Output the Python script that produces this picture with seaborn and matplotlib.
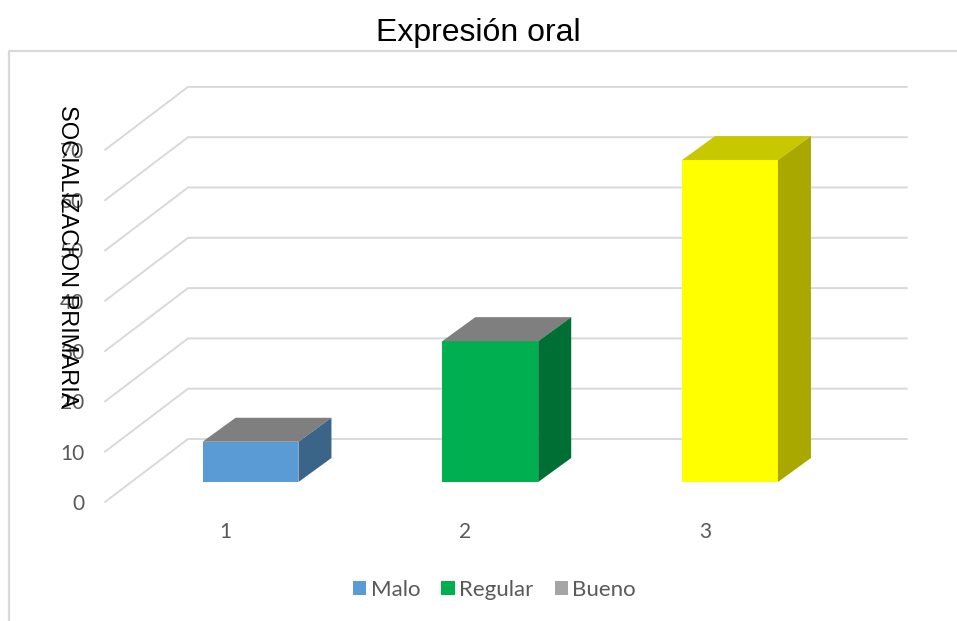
import matplotlib
matplotlib.use('Agg')
import matplotlib.pyplot as plt
import matplotlib.transforms as mtrans
from matplotlib.lines import Line2D
from matplotlib.patches import Patch, Polygon
import pandas as pd
import seaborn as sns

# datos
categorias = ['1', '2', '3']
valores = [8, 28, 64]
marcas_y = [0, 10, 20, 30, 40, 50, 60, 70]
colores_frente = ['#5B9BD5', '#00B050', '#FFFF00']
colores_lado = ['#3A6488', '#006F33', '#A8A800']
colores_tapa = ['#7F7F7F', '#7F7F7F', '#C8C800']
leyenda_nombres = ['Malo', 'Regular', 'Bueno']
leyenda_colores = ['#5B9BD5', '#00B050', '#A5A5A5']

sns.set_theme(style='white')
plt.rcParams['font.family'] = ['Lato', 'DejaVu Sans']

W, H = 957, 621
GRIS = '#D9D9D9'
TEXTO = '#595959'
PX_X = 239.75          # pixeles por categoria
PX_Y = 5.03            # pixeles por unidad
LEFT, RIGHT, BASE = 105, 874, 482

fig = plt.figure(figsize=(W / 100, H / 100), dpi=100)
ax = fig.add_axes([LEFT / W, 1 - BASE / H, (RIGHT - LEFT) / W, 70 * PX_Y / H])

df = pd.DataFrame({'categoria': categorias, 'valor': valores})
sns.barplot(data=df, x='categoria', y='valor', hue='categoria', palette=colores_frente,
            width=0.4, saturation=1, legend=False, ax=ax, zorder=3, linewidth=0)
ax.set_xlim((LEFT - 250.5) / PX_X, (RIGHT - 250.5) / PX_X)
ax.set_ylim(0, 70)
sns.despine(ax=ax, left=True, bottom=True)
ax.patch.set_alpha(0)

# profundidad 3D en unidades de datos
prof_x, prof_y = 33 / PX_X, 24 / PX_Y
muro_x, muro_y = 83 / PX_X, 43 / PX_Y
izq = ax.get_xlim()[0]
der = izq + (907 - LEFT) / PX_X
caida = 20 / PX_Y

# rejilla: diagonal lateral y linea en el muro del fondo
for v in marcas_y:
    ax.plot([izq, izq + muro_x, der], [v - caida, v + muro_y, v + muro_y],
            color=GRIS, lw=1.4, clip_on=False, zorder=1, solid_joinstyle='miter')

# caras superior y lateral a partir de las barras
for rect, lado, tapa in zip(ax.patches, colores_lado, colores_tapa):
    x0, x1, h = rect.get_x(), rect.get_x() + rect.get_width(), rect.get_height()
    ax.add_patch(Polygon([(x0, h), (x1, h), (x1 + prof_x, h + prof_y), (x0 + prof_x, h + prof_y)],
                         closed=True, fc=tapa, ec='none', clip_on=False, zorder=3))
    ax.add_patch(Polygon([(x1, 0), (x1 + prof_x, prof_y), (x1 + prof_x, h + prof_y), (x1, h)],
                         closed=True, fc=lado, ec='none', clip_on=False, zorder=3))

# ejes
ax.set_yticks(marcas_y)
ax.set_yticklabels([str(v) for v in marcas_y])
ax.tick_params(axis='y', length=0, pad=15, labelsize=15, labelcolor=TEXTO)
bajada = mtrans.ScaledTranslation(0, -20 / 100, fig.dpi_scale_trans)
for etiqueta in ax.get_yticklabels():
    etiqueta.set_transform(etiqueta.get_transform() + bajada)
ax.tick_params(axis='x', length=0, pad=29, labelsize=15, labelcolor=TEXTO)
corrida = mtrans.ScaledTranslation(-25 / 100, 0, fig.dpi_scale_trans)
for etiqueta in ax.get_xticklabels():
    etiqueta.set_transform(etiqueta.get_transform() + corrida)

ax.set_xlabel('')
ax.set_ylabel('SOCIALIZACION PRIMARIA', rotation=270, fontsize=17, color='black',
              family=['Liberation Sans'], va='center', ha='center')
ax.yaxis.set_label_coords((67 - LEFT) / (RIGHT - LEFT), (BASE - 256.5) / (70 * PX_Y))

fig.text(478 / W, 1 - 33.5 / H, 'Expresión oral', ha='center', va='center', fontsize=23,
         color='black', family=['Liberation Sans'])

# marco del grafico
fig.add_artist(Line2D([9 / W, 9 / W, 1], [0, 1 - 51 / H, 1 - 51 / H], color=GRIS, lw=1.6))

manijas = [Patch(fc=c, ec='none') for c in leyenda_colores]
fig.legend(manijas, leyenda_nombres, ncol=3, loc='center', bbox_to_anchor=(494.5 / W, 1 - 590 / H),
           frameon=False, fontsize=16, labelcolor=TEXTO, handlelength=0.6, handleheight=0.6,
           handletextpad=0.2, columnspacing=0.95)

fig.savefig('out.png', dpi=100)
